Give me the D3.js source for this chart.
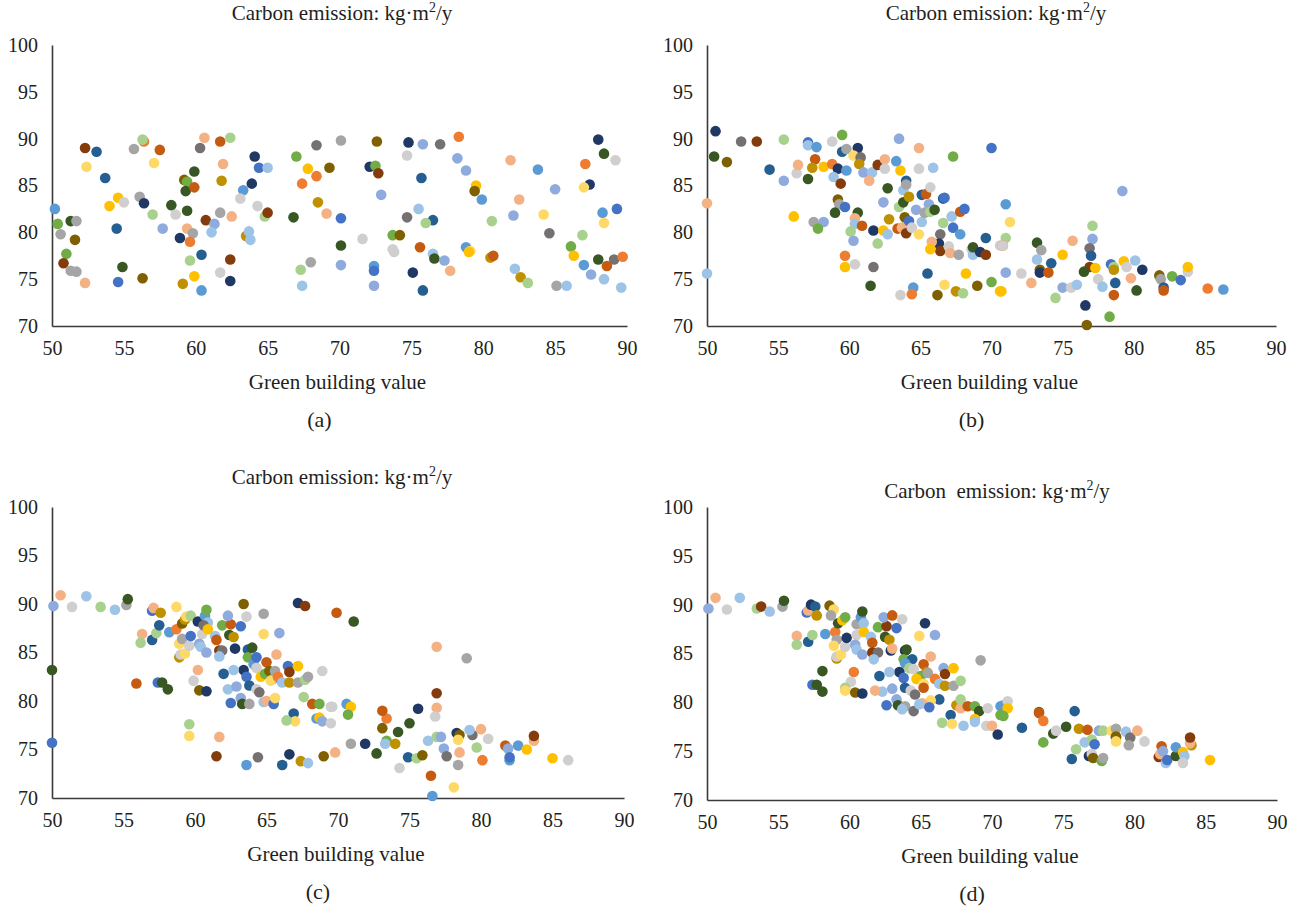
<!DOCTYPE html>
<html><head><meta charset="utf-8">
<script src="https://cdn.jsdelivr.net/npm/d3@7"></script>
<style>
html,body{margin:0;padding:0;background:#fff;}
svg text{font-family:"Liberation Serif","DejaVu Serif",serif;fill:#231f20;}
</style></head><body>
<svg id="chart" width="1306" height="911"></svg>
<script>
// ---- data ----
const xTicks = [50,55,60,65,70,75,80,85,90];
const yTicks = [70,75,80,85,90,95,100];
const panelLabels = ["(a)","(b)","(c)","(d)"];
const xTitle = "Green building value";
const seriesKeys = ["b","B","i","n","o","r","w","g","d","G","y","Y","u","v","e","k","L","l","p","a"];

const pointsA = [[50.2,82.5,"b"],[50.4,80.9,"e"],[50.6,79.8,"g"],[51.0,77.7,"e"],[50.8,76.7,"w"],[51.3,81.2,"k"],[51.7,81.2,"g"],[51.3,75.9,"g"],[51.7,75.8,"g"],[51.6,79.2,"v"],[52.3,74.6,"p"],[52.3,89.0,"w"],[52.4,87.0,"Y"],[53.1,88.6,"B"],[53.7,85.8,"B"],[54.0,82.8,"y"],[54.5,80.4,"B"],[54.6,83.7,"y"],[55.0,83.2,"G"],[54.6,74.7,"i"],[54.9,76.3,"k"],[55.7,88.9,"g"],[56.1,83.8,"g"],[56.4,83.1,"n"],[56.4,89.7,"o"],[56.3,89.9,"L"],[56.3,75.1,"v"],[57.1,87.4,"Y"],[57.5,88.8,"r"],[57.0,81.9,"L"],[57.7,80.4,"a"],[58.3,82.9,"k"],[58.6,81.9,"G"],[58.9,79.4,"n"],[59.2,85.6,"v"],[59.4,85.4,"e"],[59.3,84.4,"k"],[59.4,82.3,"k"],[59.9,86.5,"k"],[59.9,84.8,"r"],[59.4,80.4,"p"],[59.8,79.9,"g"],[59.6,79.0,"o"],[59.1,74.5,"u"],[59.6,77.0,"L"],[59.9,75.3,"y"],[60.4,77.6,"B"],[60.4,73.8,"b"],[60.6,90.1,"p"],[60.3,89.0,"d"],[60.7,81.3,"w"],[61.3,80.9,"a"],[61.1,80.0,"l"],[61.7,89.7,"r"],[62.4,90.1,"L"],[61.9,87.3,"p"],[61.8,85.5,"u"],[61.7,82.1,"g"],[62.5,81.7,"p"],[61.7,75.7,"G"],[62.4,77.1,"w"],[62.4,74.8,"n"],[63.3,84.5,"b"],[63.1,83.6,"G"],[63.5,79.6,"u"],[63.7,80.1,"l"],[63.8,79.2,"l"],[64.1,88.1,"n"],[63.9,85.2,"n"],[64.4,86.9,"i"],[65.0,86.9,"l"],[64.3,82.8,"G"],[64.8,81.7,"L"],[65.0,82.1,"w"],[66.8,81.6,"k"],[67.0,88.1,"e"],[67.4,85.2,"o"],[67.8,86.8,"y"],[68.4,86.0,"o"],[68.5,83.2,"u"],[69.1,82.0,"p"],[68.4,89.3,"d"],[69.3,86.9,"v"],[67.3,76.0,"L"],[68.0,76.8,"g"],[67.4,74.3,"l"],[70.1,89.8,"g"],[70.1,78.6,"k"],[70.1,81.5,"i"],[70.1,76.5,"a"],
[72.6,89.7,"v"],[74.8,89.6,"n"],[75.8,89.4,"a"],[77.0,89.4,"d"],[78.3,90.2,"o"],[74.7,88.2,"G"],[78.2,87.9,"a"],[78.8,86.6,"a"],[81.9,87.7,"p"],[83.8,86.7,"b"],[87.1,87.3,"o"],[88.0,89.9,"n"],[88.4,88.4,"k"],[89.2,87.7,"G"],[72.1,87.0,"n"],[72.5,87.1,"e"],[72.7,86.3,"w"],[75.7,85.8,"B"],[72.9,84.0,"a"],[79.5,85.0,"y"],[79.4,84.4,"v"],[79.9,83.5,"b"],[85.0,84.6,"a"],[87.4,85.1,"n"],[87.0,84.8,"Y"],[82.5,83.5,"p"],[75.5,82.5,"l"],[74.7,81.6,"d"],[76.5,81.3,"B"],[76.0,81.0,"L"],[80.6,81.2,"L"],[82.1,81.8,"a"],[84.2,81.9,"Y"],[88.3,82.1,"b"],[89.3,82.5,"i"],[88.4,81.0,"Y"],[71.6,79.3,"G"],[73.7,79.7,"e"],[74.2,79.7,"v"],[84.6,79.9,"d"],[86.9,79.7,"L"],[73.7,78.2,"G"],[73.8,77.9,"G"],[75.6,78.4,"r"],[76.5,77.7,"l"],[76.6,77.2,"k"],[77.3,77.0,"a"],[78.8,78.4,"b"],[79.1,78.0,"Y"],[79.0,77.9,"y"],[80.5,77.3,"u"],[80.7,77.5,"r"],[86.1,78.5,"e"],[86.3,77.5,"y"],[88.0,77.1,"k"],[89.1,77.1,"d"],[89.7,77.4,"o"],[88.6,76.4,"r"],[87.0,76.5,"b"],[87.5,75.5,"a"],[88.4,75.0,"l"],[89.6,74.1,"l"],[72.4,76.4,"b"],[72.4,75.9,"i"],[72.4,74.3,"a"],[75.1,75.7,"n"],[75.8,73.8,"B"],[77.7,75.9,"p"],[82.2,76.1,"l"],[82.6,75.2,"u"],[83.1,74.6,"L"],[85.1,74.3,"g"],[85.8,74.3,"l"]];

const pointsB = [[50.6,90.8,"n"],[52.4,89.7,"d"],[53.5,89.7,"w"],[55.4,89.9,"L"],[50.5,88.1,"k"],[51.4,87.5,"v"],[54.4,86.7,"B"],[55.4,85.5,"a"],[56.3,86.3,"G"],[56.4,87.2,"p"],[57.1,85.7,"k"],[57.1,89.6,"i"],[57.1,89.3,"l"],[57.7,89.1,"b"],[57.6,87.8,"r"],[57.4,86.9,"u"],[58.2,87.0,"y"],[58.8,89.7,"G"],[58.8,87.3,"o"],[59.2,86.8,"n"],[58.9,85.9,"l"],[59.4,85.2,"w"],[59.5,90.4,"e"],[59.5,88.6,"B"],[59.8,88.9,"g"],[59.8,86.6,"b"],[60.6,89.0,"n"],[60.3,88.2,"Y"],[60.8,88.0,"d"],[60.7,87.3,"u"],[61.0,86.4,"a"],[61.6,86.4,"l"],[61.4,85.5,"p"],[62.0,87.2,"w"],[62.5,87.8,"p"],[62.5,86.8,"G"],[63.3,87.6,"b"],[63.6,86.6,"y"],[63.5,90.0,"a"],[64.9,89.0,"p"],[64.9,86.8,"G"],[65.9,86.9,"l"],[67.3,88.1,"e"],[70.0,89.0,"i"],[50.0,83.1,"p"],[50.0,75.6,"l"],[56.1,81.7,"y"],[57.5,81.1,"g"],[58.2,81.1,"a"],[57.8,80.4,"e"],[59.2,83.5,"v"],[59.3,83.0,"g"],[59.7,82.7,"i"],[59.0,82.1,"k"],[60.6,82.1,"k"],[60.4,81.5,"p"],[60.4,80.9,"l"],[60.9,80.7,"r"],[60.1,80.1,"L"],[60.3,79.1,"a"],[61.7,80.2,"n"],[62.0,78.8,"L"],[62.4,83.2,"a"],[62.7,84.7,"k"],[62.4,80.2,"y"],[62.7,79.8,"l"],[62.8,81.4,"u"],[63.4,80.4,"r"],[63.7,80.5,"p"],[63.5,82.7,"L"],[64.0,79.9,"w"],[63.9,81.6,"v"],[63.8,84.5,"l"],[63.8,83.2,"k"],[64.0,85.5,"B"],[64.0,85.1,"g"],[64.2,83.8,"u"],[64.2,81.2,"i"],[64.4,80.5,"G"],[64.7,82.4,"a"],[64.9,79.8,"Y"],[65.1,81.1,"l"],[65.1,84.0,"B"],[65.4,84.1,"r"],[65.3,82.1,"g"],[65.6,83.0,"a"],[65.7,82.2,"L"],[66.0,82.4,"k"],[65.7,84.8,"G"],[66.6,83.6,"B"],[66.7,83.7,"i"],[66.4,79.8,"d"],[66.3,78.8,"n"],[66.4,78.0,"w"],[65.8,79.0,"p"],[65.7,78.2,"y"],[66.6,81.0,"L"],[67.3,80.5,"i"],[67.0,78.5,"G"],[67.1,77.8,"p"],[67.7,77.6,"g"],[67.2,81.7,"l"],[67.8,79.8,"b"],[67.8,82.2,"r"],[68.1,82.5,"i"],[68.6,78.2,"G"],[68.7,78.3,"a"],[68.7,77.6,"l"],[68.7,78.4,"k"],[69.2,77.9,"n"],[69.6,77.6,"w"],[69.6,79.4,"B"],[70.6,78.6,"G"],[65.5,75.6,"B"],[68.2,75.6,"y"],[66.7,74.4,"Y"],[69.0,74.3,"v"],[70.0,74.7,"e"],[70.6,73.7,"y"],[67.5,73.7,"u"],[68.0,73.5,"L"],[66.2,73.3,"v"],[64.5,74.1,"b"],[64.4,73.4,"o"],[63.6,73.3,"G"],[59.7,77.5,"o"],[59.7,76.3,"y"],[60.4,76.6,"G"],[61.7,76.3,"d"],[61.5,74.3,"k"],
[79.2,84.4,"a"],[71.0,83.0,"b"],[71.3,81.1,"Y"],[77.1,80.7,"L"],[77.1,79.3,"a"],[71.0,79.4,"L"],[70.8,78.6,"o"],[70.8,78.6,"G"],[73.2,78.9,"k"],[73.5,78.1,"g"],[75.7,79.1,"p"],[75.0,77.6,"y"],[73.2,77.1,"l"],[74.2,76.7,"B"],[76.9,78.3,"d"],[77.0,77.5,"B"],[76.9,76.3,"w"],[77.3,76.2,"y"],[76.5,75.8,"k"],[77.5,75.0,"G"],[77.8,74.2,"l"],[78.4,76.6,"i"],[78.6,76.3,"L"],[78.6,76.0,"u"],[79.3,76.9,"y"],[79.5,76.3,"G"],[80.1,77.0,"l"],[80.6,76.0,"n"],[79.8,75.1,"p"],[78.7,74.6,"B"],[78.6,73.3,"r"],[80.2,73.8,"k"],[73.4,76.0,"v"],[73.4,75.7,"n"],[74.0,75.7,"r"],[71.0,75.7,"a"],[72.1,75.6,"G"],[72.8,74.6,"p"],[70.7,73.7,"y"],[75.0,74.1,"a"],[75.6,74.1,"G"],[76.0,74.4,"l"],[74.5,73.0,"L"],[76.6,72.2,"n"],[76.7,70.1,"v"],[78.3,71.0,"e"],[81.8,75.4,"v"],[81.9,75.0,"g"],[82.1,74.1,"B"],[82.1,73.8,"r"],[82.7,75.3,"e"],[83.3,74.9,"i"],[83.8,75.8,"G"],[83.8,76.3,"y"],[85.2,74.0,"o"],[86.3,73.9,"b"]];

const pointsC = [[50.1,89.8,"a"],[50.6,90.9,"p"],[51.4,89.7,"G"],[52.4,90.8,"l"],[53.4,89.7,"L"],[54.4,89.4,"l"],[55.2,89.9,"g"],[55.3,90.5,"k"],[50.0,83.2,"k"],[50.0,75.7,"i"],[55.9,81.8,"r"],[56.3,86.9,"p"],[56.2,86.0,"L"],[57.0,89.3,"i"],[57.1,89.6,"p"],[57.6,89.1,"u"],[57.0,86.3,"B"],[57.3,87.0,"L"],[57.5,87.8,"B"],[57.4,81.9,"i"],[57.7,81.9,"k"],[58.1,81.2,"k"],[58.2,87.1,"b"],[58.7,87.4,"o"],[58.7,89.7,"Y"],[58.9,85.9,"Y"],[58.9,84.5,"u"],[59.0,84.8,"G"],[59.1,86.4,"g"],[59.1,88.0,"v"],[59.3,88.4,"u"],[59.4,88.7,"Y"],[59.7,88.8,"L"],[59.3,84.9,"Y"],[59.6,85.7,"G"],[59.7,86.7,"i"],[60.2,88.2,"n"],[60.5,86.9,"G"],[60.3,85.9,"a"],[60.4,85.6,"l"],[60.7,88.8,"b"],[60.8,89.4,"e"],[60.9,88.1,"l"],[60.6,87.8,"d"],[60.9,87.4,"y"],[61.4,86.7,"l"],[61.5,86.3,"r"],[60.8,85.0,"a"],[61.7,85.2,"w"],[61.9,85.2,"d"],[61.7,84.6,"l"],[61.9,87.8,"e"],[62.5,87.9,"r"],[62.3,88.8,"a"],[62.4,86.8,"k"],[62.7,86.6,"u"],[62.8,85.4,"n"],[63.2,87.7,"i"],[63.4,90.0,"v"],[63.6,88.7,"G"],[64.8,89.0,"g"],[64.8,86.9,"Y"],[65.9,87.0,"a"],[67.2,90.1,"n"],[67.7,89.8,"w"],[63.7,85.3,"B"],[63.7,84.5,"e"],[64.0,85.5,"k"],[64.1,83.8,"b"],[64.3,84.5,"i"],[64.3,83.4,"G"],[63.4,83.2,"n"],[63.6,82.5,"i"],[63.8,81.6,"B"],[64.3,81.2,"G"],[64.5,80.9,"d"],[63.2,80.3,"a"],[63.3,79.7,"k"],[63.8,79.7,"g"],[62.5,79.8,"i"],[62.3,81.2,"l"],[62.9,81.5,"a"],[62.7,83.2,"l"],[62.0,82.8,"B"],[65.0,84.0,"r"],[64.6,82.5,"y"],[64.9,82.8,"e"],[65.2,83.1,"v"],[65.5,82.3,"b"],[65.3,82.1,"Y"],[65.6,83.1,"g"],[65.8,82.5,"o"],[66.1,81.9,"l"],[65.7,84.8,"p"],[66.5,83.6,"i"],[66.6,83.0,"w"],[66.6,81.9,"u"],[67.2,81.9,"g"],[67.2,83.6,"y"],[67.7,82.2,"L"],[67.9,82.5,"g"],[68.9,83.1,"G"],[64.8,79.9,"l"],[65.0,80.0,"p"],[65.5,79.7,"i"],[65.6,80.3,"Y"],[67.6,80.4,"L"],[68.2,79.7,"r"],[68.7,79.7,"e"],[68.5,78.2,"b"],[68.7,78.3,"y"],[68.9,77.9,"a"],[66.9,78.7,"B"],[67.0,77.9,"Y"],[66.4,78.0,"L"],[69.5,79.4,"G"],[69.5,77.7,"G"],[59.9,82.1,"G"],[60.2,83.2,"p"],[60.3,81.1,"v"],[60.8,81.0,"n"],[59.6,77.6,"L"],[59.6,76.4,"Y"],[61.7,76.3,"p"],[61.5,74.3,"w"],[63.6,73.4,"b"],[64.4,74.2,"d"],[66.1,73.4,"B"],[66.6,74.5,"n"],[67.4,73.8,"u"],[67.9,73.6,"l"],[69.0,74.3,"v"],
[69.9,89.1,"r"],[71.1,88.2,"k"],[76.9,85.6,"p"],[79.0,84.4,"g"],[76.9,80.8,"w"],[76.9,79.3,"p"],[76.8,78.4,"G"],[75.6,79.2,"n"],[75.0,77.7,"k"],[74.2,76.8,"k"],[73.4,78.2,"o"],[73.1,79.0,"r"],[73.1,77.2,"v"],[73.4,75.9,"e"],[73.3,75.6,"l"],[74.0,75.6,"u"],[72.7,74.6,"k"],[71.9,75.6,"n"],[70.9,75.6,"g"],[70.6,79.7,"b"],[70.9,79.4,"y"],[70.7,78.6,"e"],[69.6,79.4,"G"],[69.8,74.7,"p"],[74.3,73.1,"G"],[74.9,74.2,"B"],[75.5,74.1,"L"],[75.9,74.4,"v"],[76.5,72.3,"r"],[76.6,70.2,"b"],[78.1,71.1,"Y"],[76.3,75.9,"l"],[76.9,76.3,"L"],[77.2,76.3,"a"],[77.4,75.1,"a"],[77.6,74.3,"d"],[78.3,76.7,"n"],[78.5,76.5,"v"],[78.4,76.0,"Y"],[79.4,76.5,"d"],[79.2,77.0,"l"],[80.0,77.1,"p"],[80.5,76.1,"G"],[79.7,75.2,"L"],[78.5,74.7,"p"],[78.4,73.4,"g"],[80.1,73.9,"o"],[81.7,75.4,"r"],[81.9,75.1,"a"],[82.0,73.9,"b"],[82.0,74.2,"i"],[82.6,75.4,"b"],[83.2,75.0,"y"],[83.7,75.9,"p"],[83.7,76.4,"w"],[85.0,74.1,"y"],[86.1,73.9,"G"]];

const pointsD = [[50.1,89.6,"a"],[50.6,90.7,"p"],[51.4,89.5,"G"],[52.3,90.7,"l"],[53.5,89.6,"L"],[53.8,89.8,"w"],[54.4,89.3,"l"],[55.3,89.8,"g"],[55.4,90.4,"k"],[56.3,86.8,"p"],[56.3,85.9,"L"],[57.1,86.2,"B"],[57.4,86.9,"L"],[57.0,89.2,"i"],[57.1,89.4,"p"],[57.3,90.0,"n"],[57.6,89.8,"B"],[57.7,88.9,"u"],[58.1,83.2,"k"],[57.4,81.8,"i"],[57.7,81.8,"k"],[58.1,81.1,"k"],[58.3,87.0,"b"],[59.0,87.2,"o"],[58.6,89.9,"v"],[58.9,89.5,"Y"],[58.7,88.9,"g"],[59.2,88.1,"k"],[59.5,88.4,"y"],[59.7,88.7,"e"],[59.1,86.4,"g"],[58.9,85.8,"Y"],[59.1,84.5,"u"],[59.1,84.7,"G"],[59.4,84.9,"Y"],[59.7,85.7,"G"],[59.8,86.6,"n"],[60.5,88.0,"g"],[60.8,88.7,"b"],[60.9,89.3,"k"],[61.0,88.1,"l"],[60.5,86.9,"G"],[61.0,87.2,"y"],[61.5,86.7,"l"],[61.6,86.1,"r"],[60.4,85.9,"a"],[60.5,85.4,"l"],[60.9,84.9,"a"],[61.6,85.1,"w"],[62.0,85.1,"d"],[61.7,84.4,"l"],[62.0,87.7,"e"],[62.6,87.8,"w"],[62.4,88.7,"a"],[62.5,86.7,"k"],[62.8,86.4,"u"],[62.9,85.3,"n"],[63.3,87.6,"i"],[63.0,88.9,"r"],[63.7,88.5,"G"],[63.0,85.5,"p"],[65.3,88.1,"n"],[64.9,86.8,"Y"],[66.0,86.9,"a"],[69.2,84.3,"g"],[63.9,85.3,"n"],[64.0,85.4,"k"],[63.8,84.4,"e"],[64.4,84.4,"B"],[63.9,84.0,"b"],[64.2,83.5,"L"],[64.5,83.4,"G"],[63.5,83.1,"n"],[62.8,83.1,"l"],[62.1,82.7,"B"],[63.8,82.5,"i"],[63.9,81.5,"B"],[64.3,81.2,"G"],[64.6,80.8,"d"],[63.0,81.4,"a"],[62.3,81.1,"l"],[61.8,81.2,"p"],[63.3,80.3,"a"],[62.6,79.7,"i"],[63.4,79.7,"k"],[63.9,79.6,"g"],[63.7,79.3,"l"],[64.5,79.1,"d"],[60.3,83.1,"o"],[60.1,82.1,"G"],[59.7,81.5,"L"],[59.7,81.2,"Y"],[60.4,81.0,"v"],[60.9,80.9,"n"],[65.2,83.9,"r"],[65.4,83.1,"u"],[65.0,82.7,"e"],[64.7,82.4,"y"],[65.2,81.9,"Y"],[65.2,81.5,"r"],[65.7,84.7,"p"],[65.5,83.0,"g"],[66.0,82.4,"o"],[66.3,81.9,"l"],[66.6,83.5,"a"],[66.7,82.9,"w"],[66.7,81.7,"u"],[67.3,81.7,"g"],[67.3,83.5,"y"],[67.8,82.2,"L"],[66.3,80.3,"B"],[65.7,80.2,"Y"],[65.1,79.9,"p"],[64.9,79.8,"l"],[65.6,79.5,"i"],[67.1,78.7,"B"],[67.5,79.7,"u"],[67.8,79.4,"p"],[67.8,80.3,"L"],[68.3,79.6,"r"],[68.8,79.6,"e"],[69.1,79.1,"k"],[69.7,79.4,"G"],[68.8,78.3,"y"],[68.8,78.0,"l"],[66.5,77.9,"L"],[67.2,77.8,"Y"],[68.0,77.6,"l"],[69.6,77.6,"G"],[70.0,77.6,"p"],[70.4,76.7,"n"],[70.6,79.6,"b"],[70.6,78.7,"e"],
[70.8,79.7,"b"],[71.1,80.1,"G"],[71.1,79.4,"y"],[70.8,78.6,"e"],[72.1,77.4,"B"],[73.3,79.0,"v"],[73.3,78.9,"r"],[73.6,78.1,"o"],[73.6,75.9,"e"],[74.3,76.8,"k"],[74.5,77.1,"G"],[75.2,77.5,"k"],[75.8,79.1,"B"],[75.6,74.2,"B"],[75.9,75.2,"L"],[76.1,77.3,"u"],[76.7,77.2,"r"],[76.5,75.9,"l"],[77.0,76.2,"L"],[77.2,75.7,"i"],[77.5,77.1,"a"],[77.8,77.1,"L"],[76.8,74.5,"n"],[77.0,74.7,"G"],[77.1,74.3,"v"],[77.7,74.0,"e"],[77.8,74.3,"g"],[78.4,77.1,"Y"],[78.7,77.3,"g"],[78.7,76.4,"B"],[78.7,76.5,"v"],[78.7,76.0,"Y"],[79.4,77.0,"l"],[79.7,76.4,"d"],[79.6,75.6,"g"],[80.2,77.1,"p"],[80.7,76.0,"G"],[81.7,74.4,"w"],[81.8,74.7,"p"],[81.9,75.5,"r"],[82.0,75.0,"a"],[82.2,73.8,"l"],[82.3,74.1,"i"],[82.9,74.5,"k"],[82.9,75.4,"b"],[83.4,74.9,"y"],[83.5,74.5,"l"],[83.4,73.8,"G"],[84.0,75.6,"u"],[83.9,75.8,"p"],[83.9,76.4,"w"],[85.3,74.1,"y"]];

// ---- styles ----
const colorMap = {b:"#5B9BD5",B:"#255E91",i:"#4472C4",n:"#1F3864",o:"#ED7D31",r:"#C55A11",w:"#843C0C",g:"#A5A5A5",d:"#767171",G:"#D0CECE",y:"#FFC000",Y:"#FFD966",u:"#BF9000",v:"#7F6000",e:"#70AD47",k:"#385723",L:"#A9D18E",l:"#9DC3E6",p:"#F4B183",a:"#8FAADC"};
const color = d3.scaleOrdinal().domain(seriesKeys).range(seriesKeys.map(k=>colorMap[k]));
const FONT = "'Liberation Serif','Times New Roman',serif";

const panels = [
  {data:pointsA, x0:52, x1:627, y0:326, y1:45, title:"Carbon emission: kg·m", tx:342, ty:20},
  {data:pointsB, x0:707, x1:1276, y0:326, y1:45, title:"Carbon emission: kg·m", tx:996, ty:20},
  {data:pointsC, x0:52, x1:624, y0:798, y1:507, title:"Carbon emission: kg·m", tx:342, ty:484},
  {data:pointsD, x0:707, x1:1277, y0:800, y1:507, title:"Carbon\u00a0 emission: kg·m", tx:997, ty:498}
];

const svg = d3.select("#chart");
panels.forEach((p,i)=>{
  const x = d3.scaleLinear().domain([50,90]).range([p.x0,p.x1]);
  const y = d3.scaleLinear().domain([70,100]).range([p.y0,p.y1]);
  const g = svg.append("g");

  // title
  const t = g.append("text").attr("x",p.tx).attr("y",p.ty).attr("text-anchor","middle")
    .attr("font-family",FONT).style("font-size","21px");
  t.append("tspan").text(p.title);
  t.append("tspan").attr("dy",-8).style("font-size","14px").text("2");
  t.append("tspan").attr("dy",8).text("/y");

  // axes
  const xa = g.append("g").attr("transform",`translate(0,${p.y0})`)
    .call(d3.axisBottom(x).tickValues(xTicks).tickSize(0).tickPadding(15));
  const ya = g.append("g").attr("transform",`translate(${p.x0},0)`)
    .call(d3.axisLeft(y).tickValues(yTicks).tickSize(0).tickPadding(14));
  [xa,ya].forEach(a=>{
    a.attr("font-family",FONT).attr("font-size",20);
    a.select(".domain").attr("stroke","#3a3a3a").attr("stroke-width",1.6);
    a.selectAll("text").attr("font-family",FONT).style("font-family",FONT).style("font-size","20px").attr("fill","#231f20");
  });

  // points
  g.append("g").selectAll("circle").data(p.data).join("circle")
    .attr("cx",d=>x(d[0])).attr("cy",d=>y(d[1])).attr("r",5.3)
    .attr("fill",d=>color(d[2]));

  // axis title + label
  g.append("text").attr("x",(p.x0+p.x1)/2 - 2).attr("y",p.y0+63).attr("text-anchor","middle")
    .attr("font-family",FONT).style("font-size","21px").text(xTitle);
  g.append("text").attr("x",(p.x0+p.x1)/2 - 20).attr("y",p.y0+101).attr("text-anchor","middle")
    .attr("font-family",FONT).style("font-size","22px").text(panelLabels[i]);
});
</script></body></html>
